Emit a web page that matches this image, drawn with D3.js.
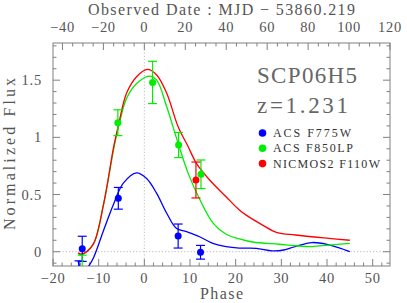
<!DOCTYPE html>
<html>
<head>
<meta charset="utf-8">
<script src="https://cdn.jsdelivr.net/npm/d3@7"></script>
<style>
  body { margin: 0; background: #fff; }
  text { font-family: "Liberation Serif", "DejaVu Serif", serif; }
</style>
</head>
<body>
<svg id="chart" width="407" height="303"></svg>
<script>
// redshift, converts observed days to rest-frame phase
var z = 1.231;

// light-curve model (phase, flux)
var blueCurve = [[-14.5, -0.08], [-13.5, -0.2], [-12.4, -0.14], [-11.1, -0.05], [-8.9, 0.19], [-6.7, 0.42],
  [-4.6, 0.6], [-1.7, 0.69], [0.5, 0.64], [2.7, 0.51], [4.9, 0.336], [7.0, 0.205], [9.2, 0.175],
  [12.1, 0.131], [15, 0.073], [17.9, 0.044], [20.8, 0.032], [24.5, 0.03], [28, 0.008], [30.5, 0.015],
  [33, 0.045], [36.7, 0.08], [40, 0.065], [42.5, 0.035], [45, 0.0]];
var greenCurve = [[-14.5, -0.01], [-14, -0.03], [-13, -0.01], [-11.1, 0.07], [-8.9, 0.42], [-6.7, 0.9],
  [-5.6, 1.1], [-3.9, 1.34], [-1.7, 1.47], [1.1, 1.536], [2.7, 1.5], [4.9, 1.267], [7.4, 0.947],
  [9.6, 0.685], [12.2, 0.452], [15.1, 0.248], [18, 0.15], [20.8, 0.112], [23.7, 0.085], [29.5, 0.065],
  [33.1, 0.052], [36.7, 0.045], [40.4, 0.058], [45, 0.073]];
var redCurve = [[-14.5, -0.01], [-14, -0.02], [-13, -0.01], [-11.1, 0.073], [-8.9, 0.42], [-6.7, 0.92],
  [-5.6, 1.12], [-3.9, 1.385], [-1.7, 1.53], [0.7, 1.594], [2.7, 1.545], [4.9, 1.385], [7.4, 1.093],
  [9.6, 0.918], [11.4, 0.773], [14.3, 0.627], [17.9, 0.48], [20.8, 0.365], [22.3, 0.32], [25.9, 0.233],
  [29.1, 0.166], [33.1, 0.146], [40.4, 0.117], [45, 0.1]];

// photometry (phase, flux, error)
var bluePoints = [[-14.3, -0.2, 0.12], [-13.6, 0.025, 0.11], [-5.7, 0.467, 0.095], [7.4, 0.137, 0.105], [12.3, -0.005, 0.06]];
var greenPoints = [[-13.6, -0.22, 0.19], [-5.8, 1.128, 0.113], [1.8, 1.48, 0.185], [7.5, 0.933, 0.11], [12.4, 0.677, 0.125]];
var redPoints = [[11.3, 0.627, 0.157]];

var xTicks = [-20, -10, 0, 10, 20, 30, 40, 50];
var topTicks = [-40, -20, 0, 20, 40, 60, 80, 100, 120];
var yTicks = [0, 0.5, 1, 1.5];

var legendNames = ["ACS F775W", "ACS F850LP", "NICMOS2 F110W"];
var legendColors = ["#0000ff", "#00ee00", "#ff0000"];

var svg = d3.select("#chart");
var pL = 53, pR = 390, pT = 43, pB = 266;

var x = d3.scaleLinear().domain([-20, 120 / (1 + z)]).range([pL, pR]);
var y = d3.scaleLinear().domain([-0.125, 1.825]).range([pB, pT]);
var xTop = d3.scaleLinear().domain([-20 * (1 + z), 120]).range([pL, pR]);

var axisColor = "#808080", labelColor = "#555";

svg.append("clipPath").attr("id", "clip").append("rect")
  .attr("x", pL).attr("y", pT).attr("width", pR - pL).attr("height", pB - pT);

// zero lines
svg.append("line").attr("x1", pL).attr("x2", pR).attr("y1", y(0)).attr("y2", y(0))
  .attr("stroke", "#bbb").attr("stroke-dasharray", "1.2,2");
svg.append("line").attr("x1", x(0)).attr("x2", x(0)).attr("y1", pT).attr("y2", pB)
  .attr("stroke", "#bbb").attr("stroke-dasharray", "1.2,2");

// frame and ticks
function ticks(g, scale, values, len, pos, dir, horiz) {
  values.forEach(function (v) {
    var p = scale(v);
    if (horiz) g.append("line").attr("x1", p).attr("x2", p).attr("y1", pos).attr("y2", pos + dir * len);
    else g.append("line").attr("y1", p).attr("y2", p).attr("x1", pos).attr("x2", pos + dir * len);
  });
}
var fg = svg.append("g").attr("stroke", axisColor).attr("stroke-width", 1);
fg.append("rect").attr("x", pL).attr("y", pT).attr("width", pR - pL).attr("height", pB - pT)
  .attr("fill", "none");
ticks(fg, x, xTicks, 7, pB, -1, true);
ticks(fg, x, d3.range(-20, 54, 2).filter(function (v) { return v % 10; }), 3.5, pB, -1, true);
ticks(fg, xTop, topTicks, 7, pT, 1, true);
ticks(fg, xTop, d3.range(-40, 121, 5).filter(function (v) { return v % 20; }), 3.5, pT, 1, true);
ticks(fg, y, yTicks, 7, pL, 1, false);
ticks(fg, y, yTicks, 7, pR, -1, false);
var yMinor = d3.range(-1, 19).map(function (v) { return v / 10; }).filter(function (v) { return Math.round(v * 10) % 5; });
ticks(fg, y, yMinor, 3.5, pL, 1, false);
ticks(fg, y, yMinor, 3.5, pR, -1, false);

function fmt(d) { return d < 0 ? "\u2212" + (-d) : String(d); }

// tick labels
svg.append("g").selectAll("text").data(xTicks).join("text")
  .attr("x", function (d) { return x(d); }).attr("y", 283)
  .attr("text-anchor", "middle").attr("font-size", 14.5).attr("letter-spacing", 0.7).attr("fill", labelColor)
  .text(fmt);
svg.append("g").selectAll("text").data(topTicks).join("text")
  .attr("x", function (d) { return xTop(d); }).attr("y", 32)
  .attr("text-anchor", "middle").attr("font-size", 14.5).attr("letter-spacing", 0.7).attr("fill", labelColor)
  .text(fmt);
svg.append("g").selectAll("text").data(yTicks).join("text")
  .attr("x", 42).attr("y", function (d) { return y(d) + 5; })
  .attr("text-anchor", "end").attr("font-size", 14.5).attr("letter-spacing", 0.8).attr("fill", labelColor)
  .text(function (d) { return d; });

// axis titles
svg.append("text").attr("x", 88).attr("y", 15)
  .attr("font-size", 16).attr("fill", labelColor)
  .attr("textLength", 267).attr("lengthAdjust", "spacing")
  .text("Observed Date : MJD \u2212 53860.219");
svg.append("text").attr("x", 200).attr("y", 299)
  .attr("font-size", 16).attr("fill", labelColor)
  .attr("textLength", 43).attr("lengthAdjust", "spacing").text("Phase");
svg.append("text").attr("transform", "translate(15,230) rotate(-90)")
  .attr("font-size", 16).attr("fill", labelColor)
  .attr("textLength", 152).attr("lengthAdjust", "spacing").text("Normalized Flux");

// curves and points
var plot = svg.append("g").attr("clip-path", "url(#clip)");
var line = d3.line().x(function (d) { return x(d[0]); }).y(function (d) { return y(d[1]); })
  .curve(d3.curveCatmullRom.alpha(0.5));
[blueCurve, greenCurve, redCurve].forEach(function (c, i) {
  plot.append("path").datum(c).attr("d", line).attr("fill", "none")
    .attr("stroke", legendColors[i]).attr("stroke-width", 1.3);
});
[bluePoints, greenPoints, redPoints].forEach(function (pts, i) {
  var g = plot.append("g").attr("stroke", legendColors[i]).attr("fill", legendColors[i]).attr("stroke-width", 1.2);
  pts.forEach(function (p) {
    var px = x(p[0]);
    g.append("line").attr("x1", px).attr("x2", px).attr("y1", y(p[1] - p[2])).attr("y2", y(p[1] + p[2]));
    g.append("line").attr("x1", px - 4.5).attr("x2", px + 4.5).attr("y1", y(p[1] - p[2])).attr("y2", y(p[1] - p[2]));
    g.append("line").attr("x1", px - 4.5).attr("x2", px + 4.5).attr("y1", y(p[1] + p[2])).attr("y2", y(p[1] + p[2]));
    g.append("circle").attr("cx", px).attr("cy", y(p[1])).attr("r", 3.5).attr("stroke", "none");
  });
});

// annotation and legend
svg.append("text").attr("x", 257).attr("y", 83).attr("font-size", 23).attr("fill", "#666")
  .attr("textLength", 100).attr("lengthAdjust", "spacing").text("SCP06H5");
svg.append("text").attr("x", 257).attr("y", 113).attr("font-size", 23).attr("fill", "#666")
  .attr("textLength", 91).attr("lengthAdjust", "spacing").text("z=1.231");
var legendWidths = [78, 80, 107];
var lg = svg.append("g");
legendNames.forEach(function (n, i) {
  var ly = 133 + i * 15.3;
  lg.append("circle").attr("cx", 262.5).attr("cy", ly).attr("r", 3.8).attr("fill", legendColors[i]);
  lg.append("text").attr("x", 273).attr("y", ly + 4).attr("font-size", 12).attr("fill", "#333")
    .attr("textLength", legendWidths[i]).attr("lengthAdjust", "spacing").text(n);
});
</script>
</body>
</html>
